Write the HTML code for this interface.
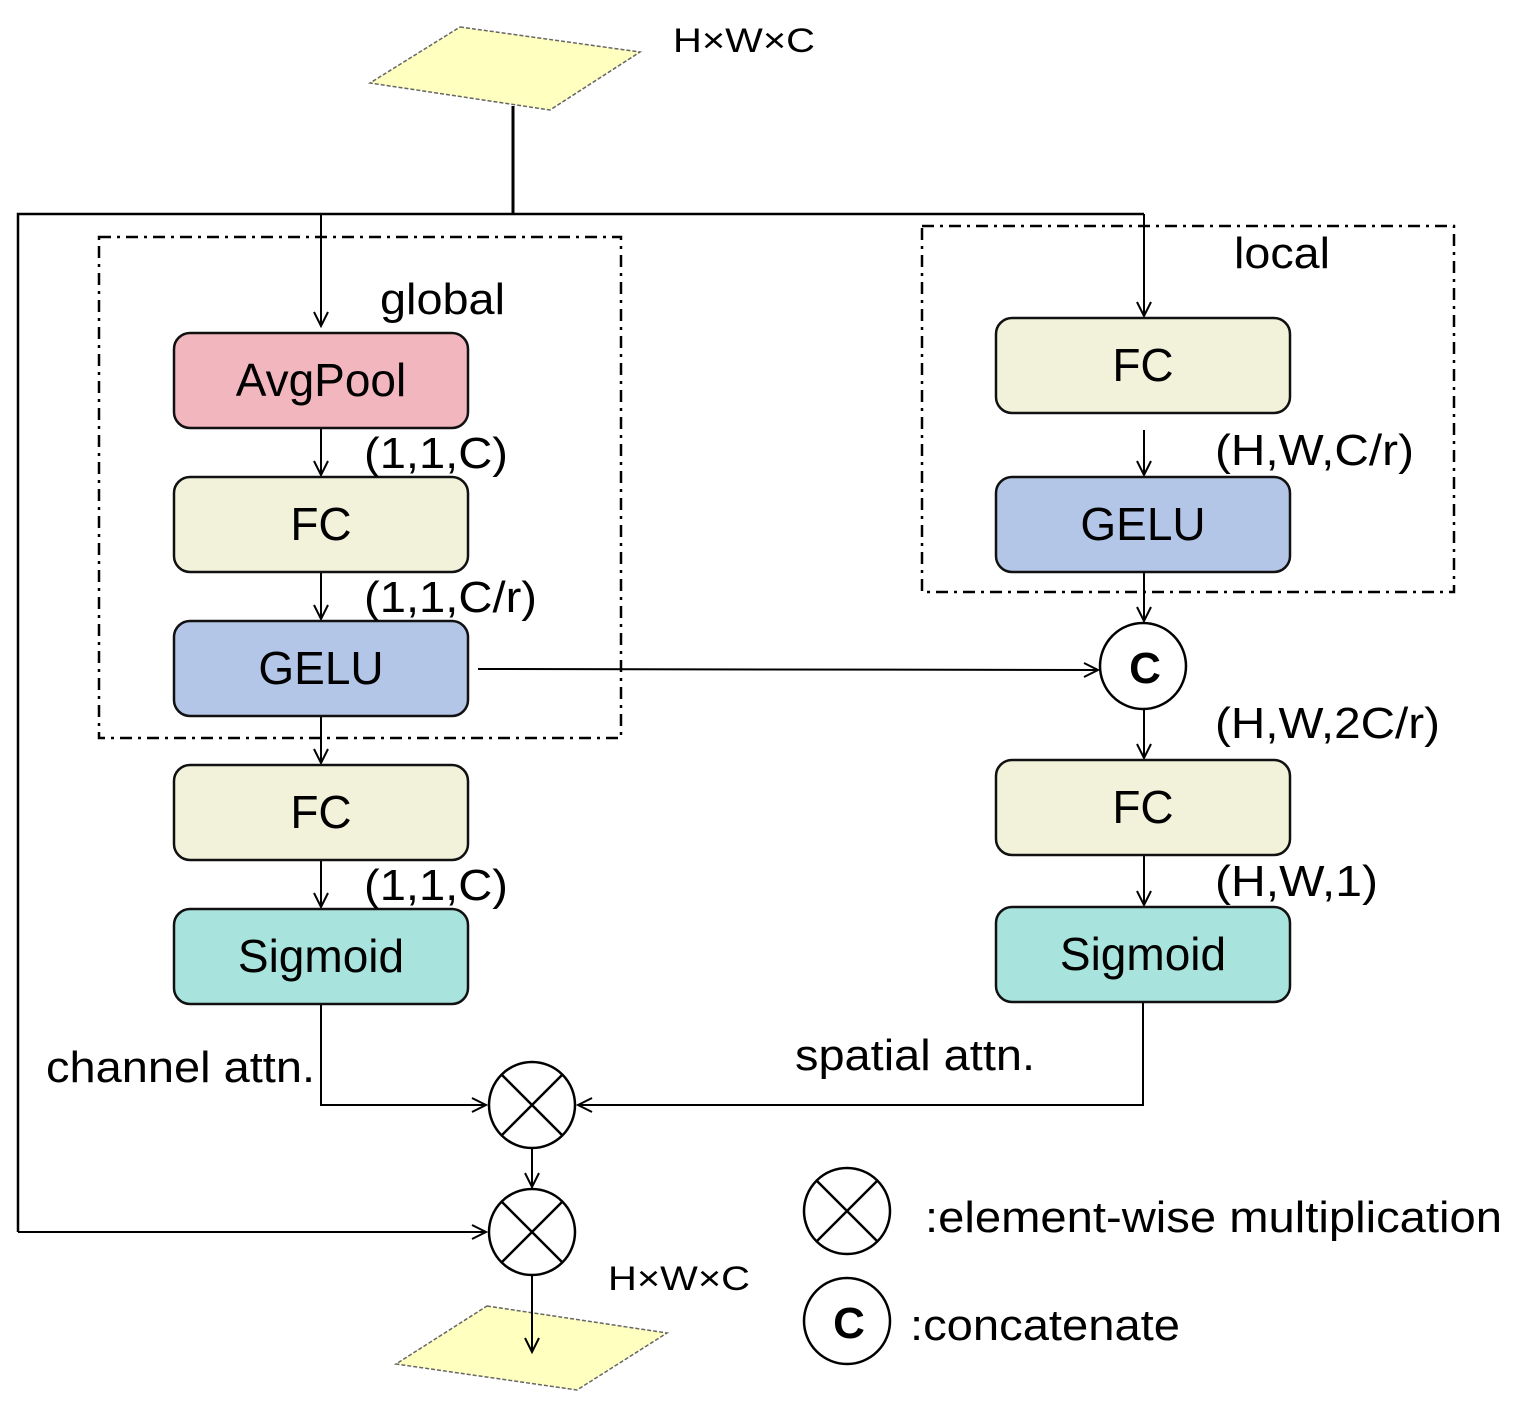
<!DOCTYPE html>
<html><head><meta charset="utf-8"><style>html,body{margin:0;padding:0;background:#fff}svg{display:block}text{font-family:"Liberation Sans",Arial,sans-serif;fill:#000}</style></head><body>
<svg width="1525" height="1410" viewBox="0 0 1525 1410" xmlns="http://www.w3.org/2000/svg">
<defs>
<marker id="a" markerWidth="20" markerHeight="20" refX="15" refY="8" orient="auto" markerUnits="userSpaceOnUse">
<polyline points="1,1 15,8 1,15" fill="none" stroke="#000" stroke-width="2"/></marker>
</defs>
<polygon points="460,27 640,52 550,110 370,83" fill="#ffffc0" stroke="#666" stroke-width="1.5" stroke-dasharray="4,2"/>
<text x="673" y="52" font-size="34" textLength="142" lengthAdjust="spacingAndGlyphs">H×W×C</text>
<g stroke="#000" fill="none" stroke-width="2.5">
<line x1="513" y1="106" x2="513" y2="214" stroke-width="3"/>
<polyline points="1144,214 18,214 18,1232" />
</g>
<g stroke="#000" fill="none" stroke-width="2">
<line x1="18" y1="1232" x2="486" y2="1232" marker-end="url(#a)"/>
<line x1="321" y1="214" x2="321" y2="326" marker-end="url(#a)"/>
<line x1="1144" y1="214" x2="1144" y2="316" marker-end="url(#a)"/>
<line x1="321" y1="428" x2="321" y2="475" marker-end="url(#a)"/>
<line x1="321" y1="572" x2="321" y2="619" marker-end="url(#a)"/>
<line x1="321" y1="716" x2="321" y2="763" marker-end="url(#a)"/>
<line x1="321" y1="860" x2="321" y2="907" marker-end="url(#a)"/>
<line x1="1144" y1="430" x2="1144" y2="475" marker-end="url(#a)"/>
<line x1="1144" y1="572" x2="1144" y2="621" marker-end="url(#a)"/>
<line x1="478" y1="669" x2="1098" y2="670" marker-end="url(#a)"/>
<line x1="1144" y1="710" x2="1144" y2="758" marker-end="url(#a)"/>
<line x1="1144" y1="855" x2="1144" y2="905" marker-end="url(#a)"/>
<polyline points="321,1004 321,1105 486,1105" marker-end="url(#a)"/>
<polyline points="1143,1002 1143,1105 578,1105" marker-end="url(#a)"/>
<line x1="532" y1="1148" x2="532" y2="1187" marker-end="url(#a)"/>
</g>
<g stroke="#000" fill="none" stroke-width="2.5" stroke-dasharray="12,6,3,6">
<rect x="99" y="237" width="522" height="501"/>
<rect x="922" y="226" width="532" height="366"/>
</g>
<g stroke="#111" stroke-width="2.5">
<rect x="174" y="333" width="294" height="95" rx="16" fill="#f2b6be"/>
<rect x="174" y="477" width="294" height="95" rx="16" fill="#f2f2da"/>
<rect x="174" y="621" width="294" height="95" rx="16" fill="#b4c6e7"/>
<rect x="174" y="765" width="294" height="95" rx="16" fill="#f2f2da"/>
<rect x="174" y="909" width="294" height="95" rx="16" fill="#a8e4dd"/>
<rect x="996" y="318" width="294" height="95" rx="16" fill="#f2f2da"/>
<rect x="996" y="477" width="294" height="95" rx="16" fill="#b4c6e7"/>
<rect x="996" y="760" width="294" height="95" rx="16" fill="#f2f2da"/>
<rect x="996" y="907" width="294" height="95" rx="16" fill="#a8e4dd"/>
</g>
<g font-size="46" text-anchor="middle">
<text x="321" y="396">AvgPool</text>
<text x="321" y="540">FC</text>
<text x="321" y="684">GELU</text>
<text x="321" y="828">FC</text>
<text x="321" y="972">Sigmoid</text>
<text x="1143" y="381">FC</text>
<text x="1143" y="540">GELU</text>
<text x="1143" y="823">FC</text>
<text x="1143" y="970">Sigmoid</text>
</g>
<g font-size="44" lengthAdjust="spacingAndGlyphs">
<text x="380" y="314" textLength="125" lengthAdjust="spacingAndGlyphs">global</text>
<text x="1234" y="268" textLength="96" lengthAdjust="spacingAndGlyphs">local</text>
<text x="364" y="468" textLength="144" lengthAdjust="spacingAndGlyphs">(1,1,C)</text>
<text x="364" y="612" textLength="173" lengthAdjust="spacingAndGlyphs">(1,1,C/r)</text>
<text x="364" y="900" textLength="144" lengthAdjust="spacingAndGlyphs">(1,1,C)</text>
<text x="1215" y="465" textLength="199" lengthAdjust="spacingAndGlyphs">(H,W,C/r)</text>
<text x="1215" y="738" textLength="225" lengthAdjust="spacingAndGlyphs">(H,W,2C/r)</text>
<text x="1215" y="896" textLength="163" lengthAdjust="spacingAndGlyphs">(H,W,1)</text>
<text x="46" y="1082" textLength="269" lengthAdjust="spacingAndGlyphs">channel attn.</text>
<text x="795" y="1070" textLength="240" lengthAdjust="spacingAndGlyphs">spatial attn.</text>
<text x="925" y="1232" textLength="577" lengthAdjust="spacingAndGlyphs">:element-wise multiplication</text>
<text x="910" y="1340" textLength="270" lengthAdjust="spacingAndGlyphs">:concatenate</text>
</g>
<g stroke="#000" stroke-width="2.5" fill="#fff">
<circle cx="1143" cy="666" r="43"/>
<circle cx="532" cy="1105" r="43"/>
<circle cx="532" cy="1232" r="43"/>
<circle cx="847" cy="1211" r="43"/>
<circle cx="847" cy="1321" r="43"/>
</g>
<g stroke="#000" stroke-width="2.5">
<line x1="502" y1="1075" x2="562" y2="1135"/><line x1="562" y1="1075" x2="502" y2="1135"/>
<line x1="502" y1="1202" x2="562" y2="1262"/><line x1="562" y1="1202" x2="502" y2="1262"/>
<line x1="817" y1="1181" x2="877" y2="1241"/><line x1="877" y1="1181" x2="817" y2="1241"/>
</g>
<text x="1145" y="683" font-size="44" font-weight="bold" text-anchor="middle">C</text>
<text x="849" y="1338" font-size="44" font-weight="bold" text-anchor="middle">C</text>
<polygon points="487,1306 667,1333 577,1390 396,1364" fill="#ffffc0" stroke="#666" stroke-width="1.5" stroke-dasharray="4,2"/>
<line x1="532" y1="1275" x2="532" y2="1352" stroke="#000" stroke-width="2" marker-end="url(#a)"/>
<text x="608" y="1290" font-size="34" textLength="142" lengthAdjust="spacingAndGlyphs">H×W×C</text>
</svg>
</body></html>
